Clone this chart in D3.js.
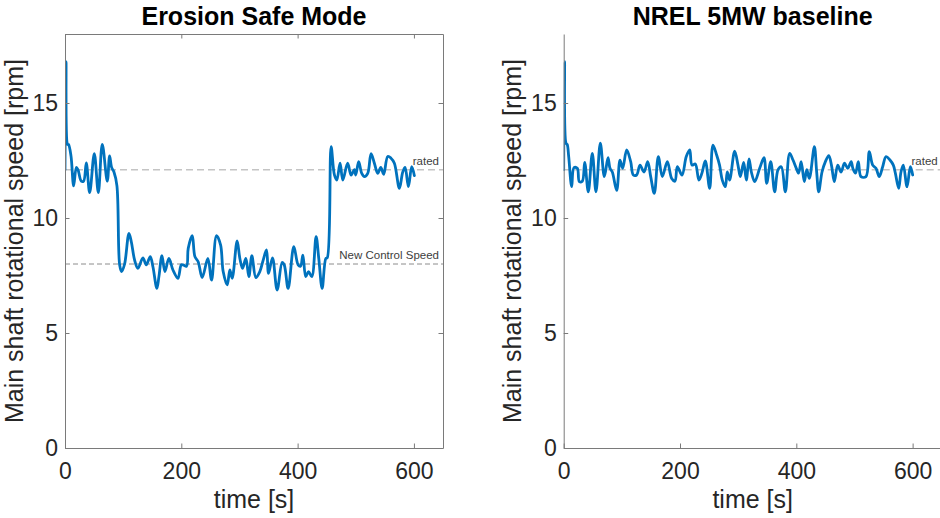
<!DOCTYPE html>
<html>
<head>
<meta charset="utf-8">
<script src="https://cdn.jsdelivr.net/npm/d3@7"></script>
<style>
  html, body { margin: 0; padding: 0; background: #fff; }
  svg { display: block; font-family: "Liberation Sans", Arial, Helvetica, sans-serif; }
</style>
</head>
<body>
<svg id="chart" width="940" height="518"></svg>
<script>
// ---------- DATA ----------
const panelTitles = ["Erosion Safe Mode", "NREL 5MW baseline"];
const xTicks = [0, 200, 400, 600];
const yTicks = [0, 5, 10, 15];
const ratedSpeed = 12.1;
const newControlSpeed = 8;

const timeESM = [0,1.7,4.6,6,10.3,14.9,19.5,22.3,28,32,
  36.6,42.4,50.4,57.3,64.1,72.7,76.7,80.2,84.2,89.3,
  94,97.4,102.5,110,114,119.7,125.4,134,139.7,146.6,
  151.2,158,161.5,166.7,171.8,178.7,185.6,194.2,199.9,203.3,
  209,211.9,218.8,223.4,229,235.9,245.7,252,260.6,267.5,
  272,278.9,283.5,287.5,296,300.7,305.3,311,316.2,321.3,
  328.2,335,340.8,346.5,350,356.8,364.8,373.4,377,383.7,
  393.5,400.9,405,409,414,418.7,424.4,431.8,436.4,442.2,
  448.5,451,457.6,463.3,467.4,473,477.7,486,492,497.6,
  500,505,510.3,515,520.6,526.3,532,537.8,543,548,
  555,560.6,566.4,575,580.8,584.8,590.5,596.2,600.8];
const speedESM = [12.1,16.8,13.2,13.2,12.7,11.4,12.2,12.1,11.6,11.6,
  12.4,11.1,12.8,11.1,13.2,11.6,12.7,12.2,12.0,11.4,
  7.96,7.67,8.0,9.33,8.97,8.17,7.81,8.27,7.96,8.32,
  7.88,6.94,7.45,8.36,7.67,8.24,7.74,7.38,7.96,7.96,
  7.9,8.68,9.23,8.32,8.1,7.41,8.24,7.3,9.23,8.83,
  7.67,7.09,7.74,7.38,9.0,8.24,7.81,8.24,7.45,8.36,
  7.41,7.67,8.17,8.61,7.59,8.27,6.87,8.07,7.96,6.94,
  8.75,7.96,7.9,8.39,7.45,7.67,7.45,9.19,8.24,6.94,
  8.24,8.27,13.1,11.87,11.65,12.38,11.65,12.38,11.87,12.1,
  11.87,12.45,11.94,11.8,11.94,12.8,12.38,11.94,12.2,11.9,
  12.67,12.6,12.38,11.29,12.0,12.2,11.36,12.23,11.84];

const timeNREL = [0,1.5,4,6,8.6,13.7,17.7,23.4,26.9,32,
  36.1,42.3,49.2,55.5,63,69.9,76.2,79.6,83.6,91.1,
  96.8,101.4,108.3,115.2,119.7,125.4,131.2,138.1,144.4,149.6,
  155.8,162.7,169.6,178.2,185.7,191.4,195.4,203.4,210.8,216.7,
  220.6,226.3,232.5,237.7,243.5,251,256.7,263,268,272.7,
  277.9,281.3,285.3,294,299.7,303.7,309.5,314,318.7,322.7,
  328.4,337,344.4,349.1,356,362.8,368.6,374.2,381.1,388.6,
  394.3,400,404,408.3,413.8,418,422.4,431,435,438.5,
  444.2,450,455.8,460.4,465.4,471.2,477,482.8,488.5,494.3,
  497.2,501.8,506.6,511.2,519.8,525.5,531.3,537,542.7,548.5,
  554.3,561,566.8,570.3,576,580,584,590.4,596.1,600.1];
const speedNREL = [12.1,16.8,13.25,13.2,12.67,11.36,12.19,12.16,11.58,11.6,
  12.42,11.14,12.81,11.14,13.25,11.8,12.62,12.16,12.0,11.2,
  12.52,12.16,12.96,12.45,11.87,11.87,12.3,12.0,12.45,11.8,
  11.07,12.67,11.8,12.45,11.72,11.6,12.23,11.87,12.67,12.96,
  12.3,12.35,11.65,11.95,12.48,11.29,13.17,12.74,12.3,11.65,
  11.36,12.0,11.65,12.91,12.3,11.8,12.42,11.65,12.57,12.0,
  11.58,12.16,12.62,11.51,12.45,11.14,12.1,12.23,11.14,12.81,
  12.52,12.16,11.95,12.45,11.58,12.1,11.72,13.1,12.0,11.14,
  12.0,12.45,12.71,12.3,11.58,12.3,12.0,12.38,12.16,12.45,
  12.16,11.95,12.45,11.8,11.8,12.88,12.3,12.16,11.8,12.23,
  12.67,12.52,12.3,11.95,11.29,12.0,12.3,11.36,12.23,11.87];

// ---------- LAYOUT ----------
const svg = d3.select("#chart");
const plotTop = 34, plotBottom = 448, plotW = 378;
const textColor = "#262626", axisColor = "#7a7a7a";
const fontFamily = '"Liberation Sans", Arial, Helvetica, sans-serif';

const panels = [
  { title: panelTitles[0], left: 65, t: timeESM, v: speedESM, box: true, ncs: true, ylabX: 23 },
  { title: panelTitles[1], left: 563.7, t: timeNREL, v: speedNREL, box: false, ncs: false, ylabX: 521 }
];

const defs = svg.append("defs");

panels.forEach((p, i) => {
  const x = d3.scaleLinear().domain([0, 650]).range([p.left, p.left + plotW]);
  const y = d3.scaleLinear().domain([0, 18]).range([plotBottom, plotTop]);
  const g = svg.append("g");

  defs.append("clipPath").attr("id", "clip" + i)
    .append("rect").attr("x", p.left).attr("y", plotTop).attr("width", plotW).attr("height", plotBottom - plotTop);

  // dashed reference lines
  g.append("line")
    .attr("x1", x(0)).attr("x2", x(650)).attr("y1", y(ratedSpeed)).attr("y2", y(ratedSpeed))
    .attr("stroke", "#c4c4c4").attr("stroke-width", 1.5).attr("stroke-dasharray", "7,4");
  g.append("text")
    .attr("x", x(650) - 4).attr("y", y(ratedSpeed) - 4.5)
    .attr("text-anchor", "end").attr("font-size", 11.5).attr("fill", "#404040")
    .attr("font-family", fontFamily).text("rated");
  if (p.ncs) {
    g.append("line")
      .attr("x1", x(0)).attr("x2", x(650)).attr("y1", y(newControlSpeed)).attr("y2", y(newControlSpeed))
      .attr("stroke", "#8c8c8c").attr("stroke-width", 1).attr("stroke-dasharray", "5,3");
    g.append("text")
      .attr("x", x(650) - 4).attr("y", y(newControlSpeed) - 5)
      .attr("text-anchor", "end").attr("font-size", 11.5).attr("fill", "#404040")
      .attr("font-family", fontFamily).text("New Control Speed");
  }

  // series
  const pts = p.t.map((t, k) => [t, p.v[k]]);
  g.append("path")
    .datum(pts)
    .attr("clip-path", `url(#clip${i})`)
    .attr("fill", "none").attr("stroke", "#0072BD").attr("stroke-width", 2.8)
    .attr("stroke-linejoin", "round").attr("stroke-linecap", "round")
    .attr("d", d3.line().curve(d3.curveCatmullRom.alpha(0.5)).x(d => x(d[0])).y(d => y(d[1])));

  // axes
  const styleAxis = sel => {
    sel.select(".domain").attr("stroke", axisColor).attr("stroke-width", 1);
    sel.selectAll(".tick line").attr("stroke", axisColor);
    sel.selectAll(".tick text").attr("fill", textColor).attr("font-size", 23).attr("font-family", fontFamily);
  };
  g.append("g").attr("transform", `translate(0,${plotBottom})`)
    .call(d3.axisBottom(x).tickValues(xTicks).tickSizeInner(-4.5).tickSizeOuter(0).tickPadding(15).tickFormat(d3.format("d")))
    .call(styleAxis);
  g.append("g").attr("transform", `translate(${p.left},0)`)
    .call(d3.axisLeft(y).tickValues(yTicks).tickSizeInner(-4.5).tickSizeOuter(0).tickPadding(7).tickFormat(d3.format("d")))
    .call(styleAxis);
  if (p.box) {
    g.append("g").attr("transform", `translate(0,${plotTop})`)
      .call(d3.axisTop(x).tickValues(xTicks).tickSizeInner(-4.5).tickSizeOuter(0).tickFormat(""))
      .call(styleAxis);
    g.append("g").attr("transform", `translate(${p.left + plotW},0)`)
      .call(d3.axisRight(y).tickValues(yTicks).tickSizeInner(-4.5).tickSizeOuter(0).tickFormat(""))
      .call(styleAxis);
  }

  // labels
  const cx = p.left + plotW / 2;
  g.append("text").attr("x", cx).attr("y", 25)
    .attr("text-anchor", "middle").attr("font-size", 25).attr("font-weight", "bold")
    .attr("fill", "#000").attr("font-family", fontFamily).text(p.title);
  g.append("text").attr("x", cx).attr("y", 508)
    .attr("text-anchor", "middle").attr("font-size", 25)
    .attr("fill", textColor).attr("font-family", fontFamily).text("time [s]");
  g.append("text")
    .attr("transform", `translate(${p.ylabX},${(plotTop + plotBottom) / 2}) rotate(-90)`)
    .attr("text-anchor", "middle").attr("font-size", 25)
    .attr("fill", textColor).attr("font-family", fontFamily).text("Main shaft rotational speed [rpm]");
});
</script>
</body>
</html>
